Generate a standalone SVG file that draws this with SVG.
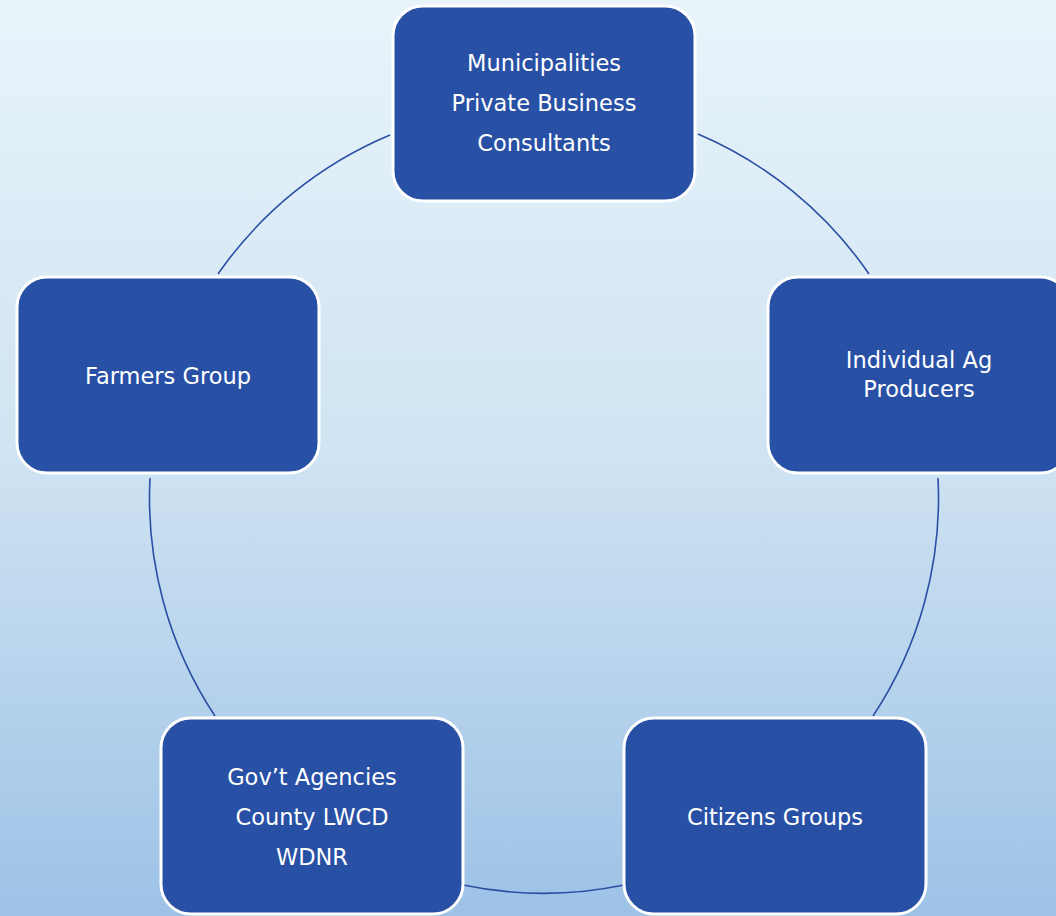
<svg xmlns="http://www.w3.org/2000/svg" width="1056" height="916" viewBox="0 0 1056 916">
<defs>
<linearGradient id="bg" x1="0" y1="0" x2="0" y2="1">
<stop offset="0" stop-color="#E8F4FA"/>
<stop offset="0.5" stop-color="#CFE3F2"/>
<stop offset="1" stop-color="#9DC2E6"/>
</linearGradient>
<style>
.box{fill:#2850A5;stroke:#FFFFFF;stroke-width:3}
.lbl{fill:#FFFFFF;font-family:"DejaVu Sans","Liberation Sans",sans-serif;font-size:22.5px;text-anchor:middle}
.arc{fill:none;stroke:#2A4FA5;stroke-width:1.6}
</style>
</defs>
<rect x="0" y="0" width="1056" height="916" fill="url(#bg)"/>
<g id="connectors">
<path class="arc" d="M 218 274 A 395 395 0 0 1 390 135"/>
<path class="arc" d="M 698 134 A 395 395 0 0 1 869 274"/>
<path class="arc" d="M 938 478 A 395 395 0 0 1 873 716"/>
<path class="arc" d="M 624 885 A 395 395 0 0 1 463 885"/>
<path class="arc" d="M 215 716 A 395 395 0 0 1 150 478"/>
</g>
<g id="node-top">
<rect class="box" x="393" y="6" width="302" height="195" rx="30"/>
<text class="lbl" x="544" y="71">Municipalities</text>
<text class="lbl" x="544" y="111">Private Business</text>
<text class="lbl" x="544" y="151">Consultants</text>
</g>
<g id="node-right">
<rect class="box" x="768" y="277" width="302" height="196" rx="30"/>
<text class="lbl" x="919" y="368">Individual Ag</text>
<text class="lbl" x="919" y="397">Producers</text>
</g>
<g id="node-left">
<rect class="box" x="17" y="277" width="302" height="196" rx="30"/>
<text class="lbl" x="168" y="384">Farmers Group</text>
</g>
<g id="node-bottom-left">
<rect class="box" x="161" y="718" width="302" height="196" rx="30"/>
<text class="lbl" x="312" y="785">Gov’t Agencies</text>
<text class="lbl" x="312" y="825">County LWCD</text>
<text class="lbl" x="312" y="865">WDNR</text>
</g>
<g id="node-bottom-right">
<rect class="box" x="624" y="718" width="302" height="196" rx="30"/>
<text class="lbl" x="775" y="825">Citizens Groups</text>
</g>
</svg>
